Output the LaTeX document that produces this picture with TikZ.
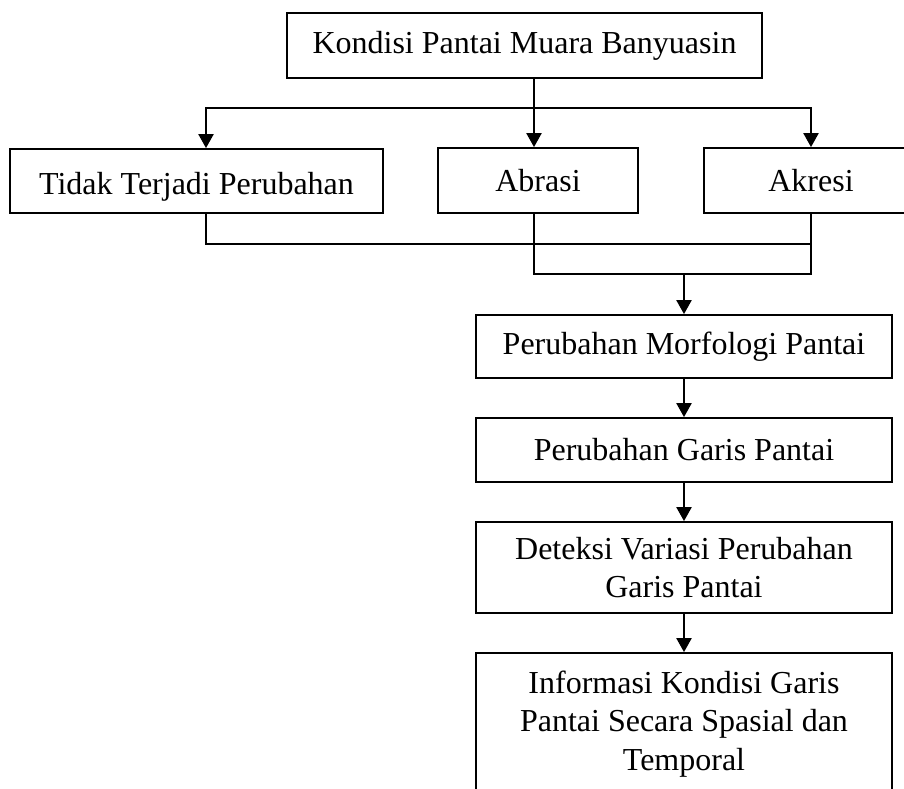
\documentclass[tikz,border=0pt]{standalone}
\usepackage{fontspec}
\setmainfont{Liberation Serif}
\usetikzlibrary{arrows.meta,calc}
\begin{document}
\begin{tikzpicture}[x=1pt,y=-1pt,
  box/.style={draw, line width=1.8pt, inner sep=0pt, align=center, font=\fontsize{32}{38.5}\selectfont},
  conn/.style={line width=2.2pt, line cap=rect},
  arr/.style={conn, -{Triangle[length=14pt,width=15pt]}}]
\clip (0,0) rectangle (904,788);
\node[box, minimum width=475pt, minimum height=65pt] (top) at (524.5,45.5) {Kondisi Pantai Muara Banyuasin};
\node[box, minimum width=373pt, minimum height=64pt, text height=26pt, text depth=0pt] (tidak) at (196.5,181) {Tidak Terjadi Perubahan};
\node[box, minimum width=200pt, minimum height=65pt] (abr) at (538,180.5) {Abrasi};
\node[box, minimum width=214pt, minimum height=65pt] (akr) at (811,180.5) {Akresi};
\node[box, minimum width=416pt, minimum height=63pt] (morf) at (684,346.5) {Perubahan Morfologi Pantai};
\node[box, minimum width=416pt, minimum height=64pt] (garis) at (684,450) {Perubahan Garis Pantai};
\node[box, minimum width=416pt, minimum height=91pt] (det) at (684,567.5) {Deteksi Variasi Perubahan\\Garis Pantai};
\node[box, minimum width=416pt, minimum height=142pt] (info) at (684,724) {Informasi Kondisi Garis\\Pantai Secara Spasial dan\\Temporal};
\coordinate (xa) at (206,108);
\coordinate (xb) at (534,108);
\coordinate (xc) at (811,108);
\coordinate (m1) at (0,244);
\coordinate (m2) at (0,274);
\coordinate (xm) at (684,0);
\draw[arr] (top.south -| xb) -- (abr.north -| xb);
\draw[arr] (xa) -- (tidak.north -| xa);
\draw[arr] (xa) -- (xc) -- (akr.north -| xc);
\draw[conn] (tidak.south -| xa) |- (m1 -| xc);
\draw[conn] (abr.south -| xb) |- (m2 -| xc) -- (akr.south -| xc);
\draw[arr] (m2 -| xm) -- (morf.north -| xm);
\draw[arr] (morf.south) -- (garis.north);
\draw[arr] (garis.south) -- (det.north);
\draw[arr] (det.south) -- (info.north);
\end{tikzpicture}
\end{document}
